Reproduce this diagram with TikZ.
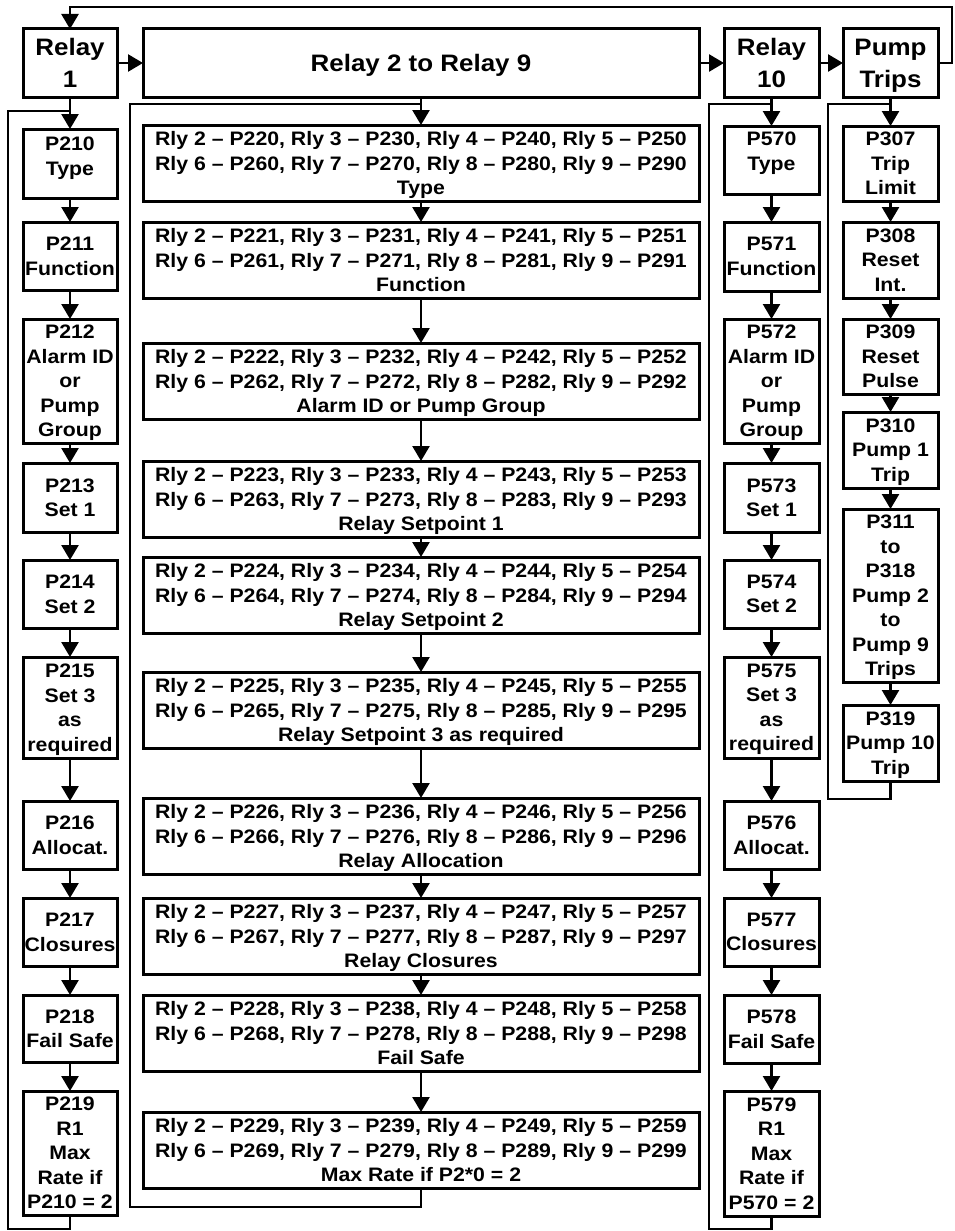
\documentclass[tikz,border=0pt]{standalone}
\usepackage{fontspec}
\setmainfont{Liberation Sans}[FakeStretch=1.09]
\usetikzlibrary{arrows.meta}
\newcommand\rlylines[1]{Rly 2 – P22#1, Rly 3 – P23#1, Rly 4 – P24#1, Rly 5 – P25#1\\Rly 6 – P26#1, Rly 7 – P27#1, Rly 8 – P28#1, Rly 9 – P29#1}
\begin{document}
\begin{tikzpicture}[x=1pt,y=-1pt,
  box/.style={draw, line width=3pt, inner sep=0pt, outer sep=0pt, anchor=north west},
  lbox/.style={box, minimum width=94pt},
  rbox/.style={box, minimum width=95pt},
  midbox/.style={box, minimum width=556pt, minimum height=76pt},
  txt/.style={font=\fontsize{19.5}{24.5}\selectfont\bfseries, align=center, inner sep=0pt, anchor=north},
  big/.style={font=\fontsize{23.8}{32}\selectfont\bfseries, align=center, inner sep=0pt, anchor=north},
  l2/.style={yshift=19.2pt}, l3/.style={yshift=31.5pt}, l4/.style={yshift=43.7pt},
  l5/.style={yshift=56pt}, l7/.style={yshift=80.5pt},
  conn/.style={line width=2.5pt},
  arr/.style={conn, -{Triangle[width=17pt,length=15pt]}}
]
\useasboundingbox (0,0) rectangle (954,1231);

% top row
\node[box, minimum width=94pt, minimum height=68pt] (r1) at (23,29) {};
\node[box, minimum width=556pt, minimum height=68pt] (r29) at (143,29) {};
\node[box, minimum width=95pt, minimum height=68pt] (r10) at (724,29) {};
\node[box, minimum width=95pt, minimum height=68pt] (pt) at (843,29) {};
\node[big, yshift=24.5pt] (tr1) at (r1.center) {Relay\\1};
\node[big, yshift=8.5pt] (tr29) at (r29.center) {Relay 2 to Relay 9};
\node[big, yshift=24.5pt] (tr10) at (r10.center) {Relay\\10};
\node[big, yshift=24.5pt] (tpt) at (pt.center) {Pump\\Trips};

% left column
\node[lbox, minimum height=69pt] (b210) at (23,129) {};
\node[lbox, minimum height=68pt] (b211) at (23,222) {};
\node[lbox, minimum height=124pt] (b212) at (23,319) {};
\node[lbox, minimum height=69pt] (b213) at (23,463) {};
\node[lbox, minimum height=68pt] (b214) at (23,560) {};
\node[lbox, minimum height=101pt] (b215) at (23,657) {};
\node[lbox, minimum height=68pt] (b216) at (23,801) {};
\node[lbox, minimum height=68pt] (b217) at (23,898) {};
\node[lbox, minimum height=67pt] (b218) at (23,995) {};
\node[lbox, minimum height=124pt] (b219) at (23,1091) {};
\node[txt] (t210) at ([yshift=-8pt]b210.north) {P210\\Type};
\node[txt, l2] (t211) at (b211.center) {P211\\Function};
\node[txt, l5] (t212) at (b212.center) {P212\\Alarm ID\\or\\Pump\\Group};
\node[txt, l2] (t213) at (b213.center) {P213\\Set 1};
\node[txt, l2] (t214) at (b214.center) {P214\\Set 2};
\node[txt, l4] (t215) at (b215.center) {P215\\Set 3\\as\\required};
\node[txt, l2] (t216) at (b216.center) {P216\\Allocat.};
\node[txt, l2] (t217) at (b217.center) {P217\\Closures};
\node[txt, l2] (t218) at (b218.center) {P218\\Fail Safe};
\node[txt, l5] (t219) at (b219.center) {P219\\R1\\Max\\Rate if\\P210 = 2};

% middle column
\node[midbox] (m0) at (143,125) {};
\node[midbox] (m1) at (143,222) {};
\node[midbox] (m2) at (143,343) {};
\node[midbox] (m3) at (143,461) {};
\node[midbox] (m4) at (143,557) {};
\node[midbox] (m5) at (143,672) {};
\node[midbox] (m6) at (143,798) {};
\node[midbox] (m7) at (143,898) {};
\node[midbox] (m8) at (143,995) {};
\node[midbox] (m9) at (143,1112) {};
\node[txt, l3] (tm0) at (m0.center) {\rlylines{0}\\Type};
\node[txt, l3] (tm1) at (m1.center) {\rlylines{1}\\Function};
\node[txt, l3] (tm2) at (m2.center) {\rlylines{2}\\Alarm ID or Pump Group};
\node[txt, l3] (tm3) at (m3.center) {\rlylines{3}\\Relay Setpoint 1};
\node[txt, l3] (tm4) at (m4.center) {\rlylines{4}\\Relay Setpoint 2};
\node[txt, l3] (tm5) at (m5.center) {\rlylines{5}\\Relay Setpoint 3 as required};
\node[txt, l3] (tm6) at (m6.center) {\rlylines{6}\\Relay Allocation};
\node[txt, l3] (tm7) at (m7.center) {\rlylines{7}\\Relay Closures};
\node[txt, l3] (tm8) at (m8.center) {\rlylines{8}\\Fail Safe};
\node[txt, l3] (tm9) at (m9.center) {\rlylines{9}\\Max Rate if P2*0 = 2};

% relay 10 column
\node[rbox, minimum height=68pt] (b570) at (724,126) {};
\node[rbox, minimum height=69pt] (b571) at (724,222) {};
\node[rbox, minimum height=124pt] (b572) at (724,319) {};
\node[rbox, minimum height=69pt] (b573) at (724,463) {};
\node[rbox, minimum height=68pt] (b574) at (724,560) {};
\node[rbox, minimum height=101pt] (b575) at (724,657) {};
\node[rbox, minimum height=68pt] (b576) at (724,801) {};
\node[rbox, minimum height=68pt] (b577) at (724,898) {};
\node[rbox, minimum height=68pt] (b578) at (724,995) {};
\node[rbox, minimum height=125pt] (b579) at (724,1091) {};
\node[txt] (t570) at ([yshift=-6pt]b570.north) {P570\\Type};
\node[txt, l2] (t571) at (b571.center) {P571\\Function};
\node[txt, l5] (t572) at (b572.center) {P572\\Alarm ID\\or\\Pump\\Group};
\node[txt, l2] (t573) at (b573.center) {P573\\Set 1};
\node[txt, l2] (t574) at (b574.center) {P574\\Set 2};
\node[txt, l4] (t575) at (b575.center) {P575\\Set 3\\as\\required};
\node[txt, l2] (t576) at (b576.center) {P576\\Allocat.};
\node[txt, l2] (t577) at (b577.center) {P577\\Closures};
\node[txt, l2] (t578) at (b578.center) {P578\\Fail Safe};
\node[txt, l5] (t579) at (b579.center) {P579\\R1\\Max\\Rate if\\P570 = 2};

% pump trips column
\node[rbox, minimum height=75pt] (p307) at (843,126) {};
\node[rbox, minimum height=76pt] (p308) at (843,222) {};
\node[rbox, minimum height=75pt] (p309) at (843,319) {};
\node[rbox, minimum height=76pt] (p310) at (843,412) {};
\node[rbox, minimum height=173pt] (p311) at (843,509) {};
\node[rbox, minimum height=76pt] (p319) at (843,705) {};
\node[txt, l3] (t307) at (p307.center) {P307\\Trip\\Limit};
\node[txt, l3] (t308) at (p308.center) {P308\\Reset\\Int.};
\node[txt, l3] (t309) at (p309.center) {P309\\Reset\\Pulse};
\node[txt, l3] (t310) at (p310.center) {P310\\Pump 1\\Trip};
\node[txt, l7] (t311) at (p311.center) {P311\\to\\P318\\Pump 2\\to\\Pump 9\\Trips};
\node[txt, l3] (t319) at (p319.center) {P319\\Pump 10\\Trip};

% loop coordinates
\coordinate (tc) at (952,7);
\coordinate (lj) at (70,111);
\coordinate (lb) at (8,1229);
\coordinate (mj) at (421,104);
\coordinate (mb) at (130,1207);
\coordinate (rj) at (771.5,104);
\coordinate (rb) at (709,1229);
\coordinate (pj) at (890.5,104);
\coordinate (pb) at (828,799);

% top arrows
\draw[arr] (r1.east) -- (r29.west);
\draw[arr] (r29.east) -- (r10.west);
\draw[arr] (r10.east) -- (pt.west);
\draw[arr] (pt.east) -| (tc) -| (r1.north);

% column heads
\draw[arr] (r1.south) -- (b210.north);
\draw[arr] (r29.south) -- (m0.north);
\draw[arr] (r10.south) -- (b570.north);
\draw[arr] (pt.south) -- (p307.north);

% chains
\foreach \a/\b in {b210/b211,b211/b212,b212/b213,b213/b214,b214/b215,b215/b216,b216/b217,b217/b218,b218/b219,
  m0/m1,m1/m2,m2/m3,m3/m4,m4/m5,m5/m6,m6/m7,m7/m8,m8/m9,
  b570/b571,b571/b572,b572/b573,b573/b574,b574/b575,b575/b576,b576/b577,b577/b578,b578/b579,
  p307/p308,p308/p309,p309/p310,p310/p311,p311/p319}
  \draw[arr] (\a.south) -- (\b.north);

% return loops
\draw[conn] (b219.south) |- (lb) |- (lj);
\draw[conn] (m9.south) |- (mb) |- (mj);
\draw[conn] (b579.south) |- (rb) |- (rj);
\draw[conn] (p319.south) |- (pb) |- (pj);
\end{tikzpicture}
\end{document}
